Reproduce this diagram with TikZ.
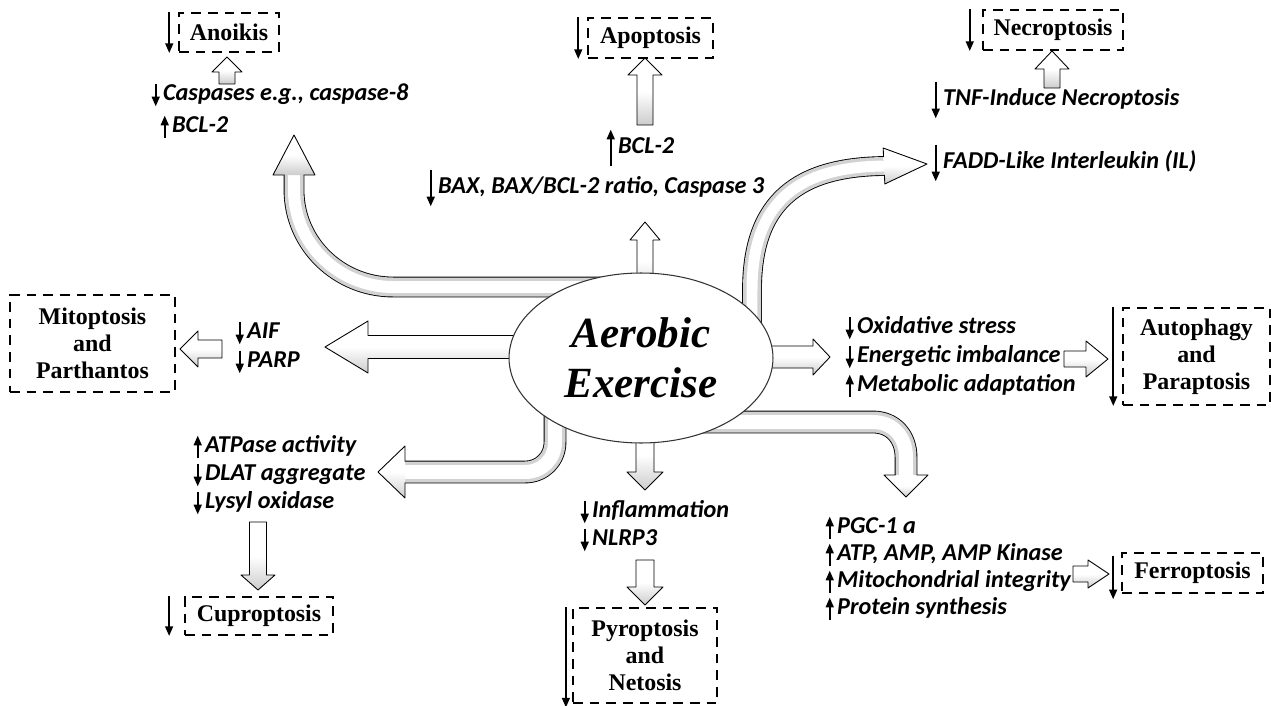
\documentclass[tikz,border=0pt]{standalone}
\usepackage{fontspec}
\setmainfont{Liberation Serif}
\newfontfamily\itemfont{Carlito}
\usetikzlibrary{shapes.geometric, arrows.meta, calc}

\pgfdeclareradialshading{rim}{\pgfpoint{0bp}{0bp}}{color(0bp)=(white); color(33bp)=(white); color(50bp)=(gray!55); color(70bp)=(gray!55)}

\tikzset{
    item/.style={anchor=west, inner xsep=1pt, inner ysep=0.5pt, text height=9pt, text depth=2.5pt,
        font=\itemfont\bfseries\itshape\fontsize{13.8pt}{16pt}\selectfont},
    deathbox/.style={draw, line width=1.1pt, dash pattern=on 5.5pt off 4pt, align=center, inner sep=0pt,
        font=\bfseries\fontsize{13.6pt}{15.4pt}\selectfont},
    hollow/.style={draw=black, line width=0.5pt, line join=round, top color=white, bottom color=gray!40, middle color=white},
    arrdn/.style={line width=1pt, -{Triangle[length=5.5pt,width=4.5pt]}}
}

% straight hollow arrow: tail, tip, shaft half width, head half width, head length
\newcommand{\blockarrow}[5]{%
    \coordinate (hb) at ($(#2)!#5!(#1)$);
    \path[hollow] ($(#1)!#3!90:(#2)$) -- ($(hb)!#3!-90:(#1)$) -- ($(hb)!#4!-90:(#1)$) -- (#2)
        -- ($(hb)!#4!90:(#1)$) -- ($(hb)!#3!90:(#1)$) -- ($(#1)!#3!-90:(#2)$) -- cycle;
}
% head of a bent arrow: base centre, tip, shaft half width, head half width
\newcommand{\arrowhead}[4]{%
    \path[hollow] ($(#1)!#3!90:(#2)$) -- ($(#1)!#4!90:(#2)$) -- (#2) -- ($(#1)!#4!-90:(#2)$) -- ($(#1)!#3!-90:(#2)$);
}
% shaft of a bent arrow: width, path
\newcommand{\tube}[2]{%
    \draw[line width=#1+1pt, line join=round] #2;
    \draw[line width=#1, gray!35, line join=round] #2;
    \draw[line width=#1-4pt, white, line join=round] #2;
}

\begin{document}
\begin{tikzpicture}[x=0.02cm, y=-0.02cm]
\useasboundingbox (0,0) rectangle (1271,706);

% ends of the block arrows
\coordinate (anoikisA) at (227,84);   \coordinate (anoikisB) at (227,57);
\coordinate (apoA) at (645,125);      \coordinate (apoB) at (645,58);
\coordinate (apoC) at (645,300);      \coordinate (apoD) at (645,222);
\coordinate (necroA) at (1052,88);    \coordinate (necroB) at (1052,51);
\coordinate (mitoA) at (540,347);     \coordinate (mitoB) at (325,347);
\coordinate (mitoC) at (222,349);     \coordinate (mitoD) at (180,349);
\coordinate (autoA) at (740,357);     \coordinate (autoB) at (830,357);
\coordinate (autoC) at (1064,359);    \coordinate (autoD) at (1108,359);
\coordinate (cuproA) at (258,522);    \coordinate (cuproB) at (258,590);
\coordinate (pyroA) at (645,420);     \coordinate (pyroB) at (645,490);
\coordinate (pyroC) at (645,560);     \coordinate (pyroD) at (645,605);
\coordinate (ferroA) at (1073,574);   \coordinate (ferroB) at (1109,574);

% bent arrows
\tube{0.38cm}{(620,287) -- (393,287) .. controls (339,287) and (294,244) .. (294,190) -- (294,175)}
\arrowhead{294,175}{294,135}{0.19cm}{0.42cm}

\tube{0.36cm}{(752,340) -- (752,290) .. controls (752,200) and (800,167) .. (884,166)}
\arrowhead{884,166}{927,164}{0.18cm}{0.36cm}

\tube{0.42cm}{(555,410) -- (555,442) .. controls (555,459) and (542,472) .. (525,472) -- (405,472)}
\arrowhead{405,472}{378,472}{0.21cm}{0.52cm}

\tube{0.42cm}{(690,422) -- (873,422) .. controls (893,422) and (906,437) .. (906,457) -- (906,475)}
\arrowhead{906,475}{906,497}{0.21cm}{0.44cm}

% straight arrows
\blockarrow{anoikisA}{anoikisB}{0.16cm}{0.3cm}{0.3cm}
\blockarrow{apoA}{apoB}{0.16cm}{0.34cm}{0.34cm}
\blockarrow{apoC}{apoD}{0.16cm}{0.3cm}{0.36cm}
\blockarrow{necroA}{necroB}{0.16cm}{0.34cm}{0.36cm}
\blockarrow{mitoA}{mitoB}{0.23cm}{0.52cm}{0.86cm}
\blockarrow{mitoC}{mitoD}{0.18cm}{0.36cm}{0.36cm}
\blockarrow{autoA}{autoB}{0.22cm}{0.36cm}{0.34cm}
\blockarrow{autoC}{autoD}{0.16cm}{0.36cm}{0.44cm}
\blockarrow{cuproA}{cuproB}{0.17cm}{0.34cm}{0.3cm}
\blockarrow{pyroA}{pyroB}{0.18cm}{0.36cm}{0.36cm}
\blockarrow{pyroC}{pyroD}{0.18cm}{0.36cm}{0.36cm}
\blockarrow{ferroA}{ferroB}{0.16cm}{0.28cm}{0.42cm}

% centre
\node[ellipse, draw=black!80, line width=0.6pt, shading=rim, minimum width=5.28cm, minimum height=3.4cm, align=center,
    font=\bfseries\itshape\fontsize{24.5pt}{28.3pt}\selectfont] (ex) at (641,358) {Aerobic\\Exercise};

% death boxes
\node[deathbox, minimum width=2cm, minimum height=0.78cm] (anoikis) at (229,32.5) {Anoikis};
\node[deathbox, minimum width=2.5cm, minimum height=0.8cm] (apoptosis) at (650.5,38) {Apoptosis};
\node[deathbox, minimum width=2.8cm, minimum height=0.8cm] (necroptosis) at (1053,30) {Necroptosis};
\node[deathbox, minimum width=3.3cm, minimum height=1.94cm] (mitoptosis) at (92.5,343.5) {Mitoptosis\\and\\Parthantos};
\node[deathbox, minimum width=2.94cm, minimum height=1.94cm] (autophagy) at (1196.5,356.5) {Autophagy\\and\\Paraptosis};
\node[deathbox, minimum width=2.96cm, minimum height=0.76cm] (cuproptosis) at (259,616) {Cuproptosis};
\node[deathbox, minimum width=2.88cm, minimum height=1.9cm] (pyroptosis) at (645,655.5) {Pyroptosis\\and\\Netosis};
\node[deathbox, minimum width=2.82cm, minimum height=0.8cm] (ferroptosis) at (1192.5,573) {Ferroptosis};

\draw[arrdn] ([xshift=-5pt]anoikis.north west) -- ([xshift=-5pt]anoikis.south west);
\draw[arrdn] ([xshift=-5pt]apoptosis.north west) -- ([xshift=-5pt]apoptosis.south west);
\draw[arrdn] ([xshift=-7pt]necroptosis.north west) -- ([xshift=-7pt]necroptosis.south west);
\draw[arrdn] ([xshift=-5pt]autophagy.north west) -- ([xshift=-5pt]autophagy.south west);
\draw[arrdn] ([xshift=-8.5pt]cuproptosis.north west) -- ([xshift=-8.5pt]cuproptosis.south west);
\draw[arrdn] ([xshift=-3.5pt]pyroptosis.north west) -- ([xshift=-3.5pt,yshift=-2pt]pyroptosis.south west);
\draw[arrdn] ([xshift=-4.5pt,yshift=-2pt]ferroptosis.north west) -- ([xshift=-4.5pt,yshift=-3pt]ferroptosis.south west);

% markers
\node[item] (casp) at (161,95) {Caspases e.g., caspase-8};
\node[item] (bcla) at (170,127) {BCL-2};
\node[item] (bclb) at (616,148) {BCL-2};
\node[item] (bax) at (436,188) {BAX, BAX/BCL-2 ratio, Caspase 3};
\node[item] (tnf) at (941,100) {TNF-Induce Necroptosis};
\node[item] (fadd) at (941,163) {FADD-Like Interleukin (IL)};
\node[item] (aif) at (245,333) {AIF};
\node[item] (parp) at (245,362) {PARP};
\node[item] (oxi) at (855,328) {Oxidative stress};
\node[item] (ener) at (855,357) {Energetic imbalance};
\node[item] (meta) at (855,386) {Metabolic adaptation};
\node[item] (atpase) at (203,447) {ATPase activity};
\node[item] (dlat) at (203,475) {DLAT aggregate};
\node[item] (lysyl) at (203,503) {Lysyl oxidase};
\node[item] (infl) at (590,512) {Inflammation};
\node[item] (nlrp) at (590,540) {NLRP3};
\node[item] (pgc) at (835,528) {PGC-1 a};
\node[item] (atpk) at (835,555) {ATP, AMP, AMP Kinase};
\node[item] (mito) at (835,582) {Mitochondrial integrity};
\node[item] (prot) at (835,609) {Protein synthesis};

\draw[arrdn] ([xshift=-3pt]casp.north west) -- ([xshift=-3pt]casp.south west);
\draw[arrdn] ([xshift=-3pt]bcla.south west) -- ([xshift=-3pt]bcla.north west);
\draw[arrdn] ([xshift=-3pt,yshift=-4pt]bclb.south west) -- ([xshift=-3pt,yshift=4pt]bclb.north west);
\draw[arrdn] ([xshift=-3pt,yshift=4pt]bax.north west) -- ([xshift=-3pt,yshift=-4pt]bax.south west);
\draw[arrdn] ([xshift=-3pt,yshift=4pt]tnf.north west) -- ([xshift=-3pt,yshift=-4pt]tnf.south west);
\draw[arrdn] ([xshift=-3pt,yshift=4pt]fadd.north west) -- ([xshift=-3pt,yshift=-4pt]fadd.south west);
\draw[arrdn] ([xshift=-3pt]aif.north west) -- ([xshift=-3pt]aif.south west);
\draw[arrdn] ([xshift=-3pt]parp.north west) -- ([xshift=-3pt]parp.south west);
\draw[arrdn] ([xshift=-3pt]oxi.north west) -- ([xshift=-3pt]oxi.south west);
\draw[arrdn] ([xshift=-3pt]ener.north west) -- ([xshift=-3pt]ener.south west);
\draw[arrdn] ([xshift=-3pt]meta.south west) -- ([xshift=-3pt]meta.north west);
\draw[arrdn] ([xshift=-3pt]atpase.south west) -- ([xshift=-3pt]atpase.north west);
\draw[arrdn] ([xshift=-3pt]dlat.north west) -- ([xshift=-3pt]dlat.south west);
\draw[arrdn] ([xshift=-3pt]lysyl.north west) -- ([xshift=-3pt]lysyl.south west);
\draw[arrdn] ([xshift=-3pt]infl.north west) -- ([xshift=-3pt]infl.south west);
\draw[arrdn] ([xshift=-3pt]nlrp.north west) -- ([xshift=-3pt]nlrp.south west);
\draw[arrdn] ([xshift=-3pt]pgc.south west) -- ([xshift=-3pt]pgc.north west);
\draw[arrdn] ([xshift=-3pt]atpk.south west) -- ([xshift=-3pt]atpk.north west);
\draw[arrdn] ([xshift=-3pt]mito.south west) -- ([xshift=-3pt]mito.north west);
\draw[arrdn] ([xshift=-3pt]prot.south west) -- ([xshift=-3pt]prot.north west);

\end{tikzpicture}
\end{document}
